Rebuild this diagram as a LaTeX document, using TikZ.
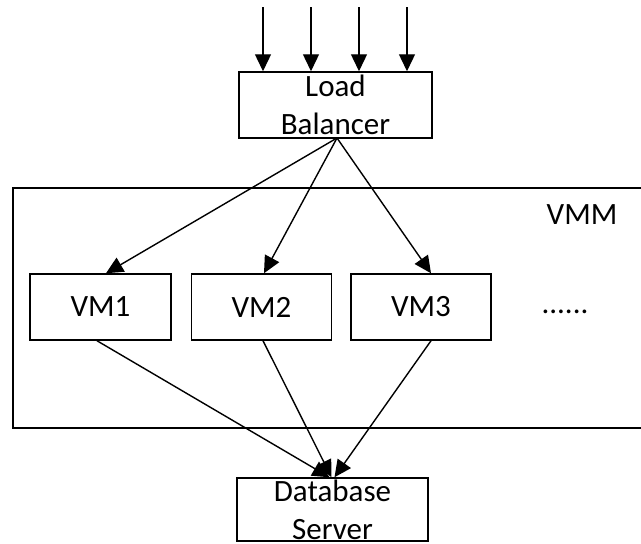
\documentclass[tikz,border=0pt]{standalone}
\usepackage{fontspec}
\setmainfont{Carlito}
\usetikzlibrary{arrows.meta}
\tikzset{
  box/.style={draw=black, line width=1.5pt, fill=white, inner sep=0pt, align=center, font=\fontsize{31}{38}\selectfont},
  lbl/.style={inner sep=0pt, font=\fontsize{31}{38}\selectfont},
  arr/.style={line width=1.4pt, -{Triangle[length=17pt,width=16pt]}},
}
\begin{document}
\begin{tikzpicture}[x=1pt,y=-1pt]
\useasboundingbox (0,0) rectangle (641,544);
\clip (0,0) rectangle (641,544);
% VMM container
\node[draw=black, line width=1.5pt, inner sep=0pt, minimum width=640pt, minimum height=240pt, anchor=north west] (vmm) at (12,187) {};
\node[lbl] (vmmlabel) at (582,215) {VMM};
\node[lbl] (dots) at (565,312) {......};
% Load balancer
\node[box, minimum width=193pt, minimum height=66pt] (lb) at (335.5,105) {Load\\Balancer};
% VMs
\node[box, minimum width=141pt, minimum height=66pt] (vm1) at (100.5,307) {VM1};
\node[box, minimum width=140pt, minimum height=66pt] (vm2) at (261.5,307) {VM2};
\node[box, minimum width=140pt, minimum height=66pt] (vm3) at (421,307) {VM3};
% Database server
\node[box, minimum width=191pt, minimum height=63pt] (db) at (332.5,509.5) {Database\\Server};
% incoming arrows
\foreach \i/\x in {1/263,2/311,3/359,4/407}{
  \coordinate (in\i) at (\x,7);
  \draw[arr] (in\i) -- (in\i |- lb.north);
}
% LB to VMs
\coordinate (lbout) at (337,138);
\draw[arr] (lbout) -- ([xshift=5.5pt]vm1.north);
\draw[arr] (lbout) -- ([xshift=2.5pt]vm2.north);
\draw[arr] (lbout) -- ([xshift=10pt]vm3.north);
% VMs to DB
\draw[arr] ([xshift=-3.5pt]vm1.south) -- ([xshift=-3pt]db.north);
\draw[arr] ([xshift=1.5pt]vm2.south) -- ([xshift=-1pt]db.north);
\draw[arr] ([xshift=10pt]vm3.south) -- ([xshift=2pt]db.north);
\end{tikzpicture}
\end{document}
